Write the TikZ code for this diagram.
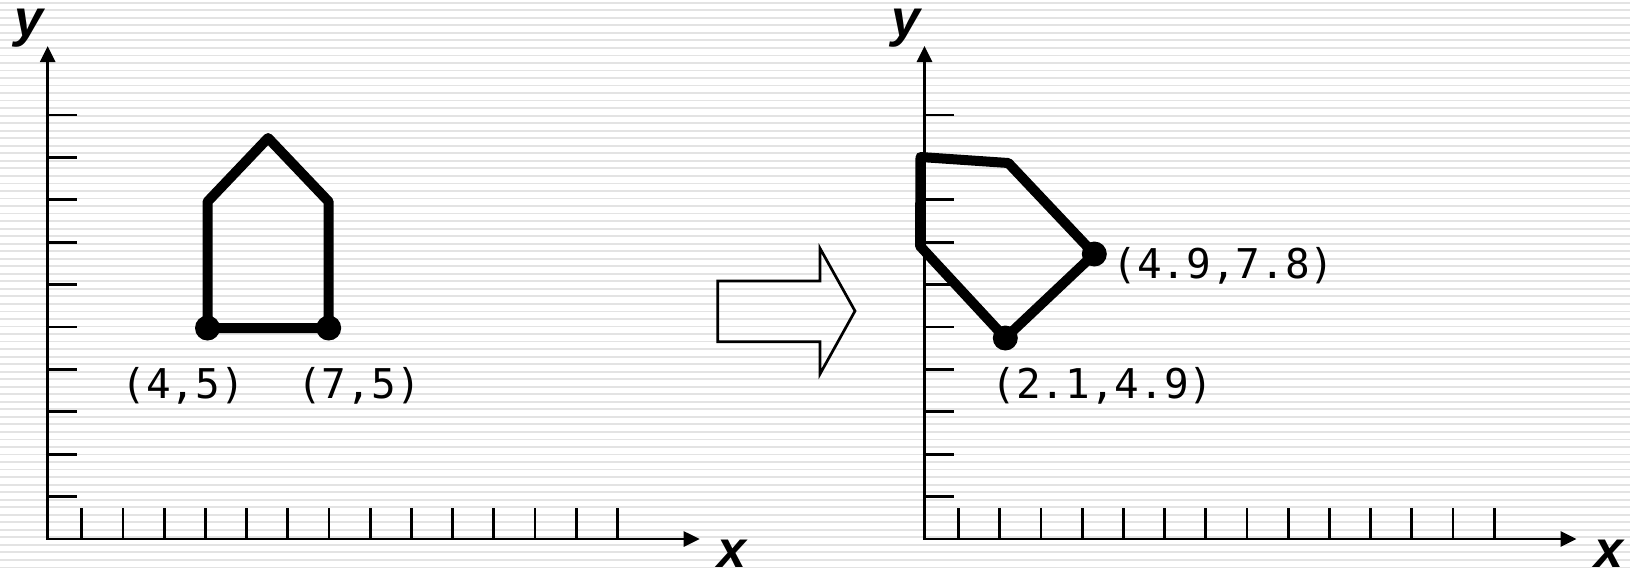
\documentclass[tikz,border=0pt]{standalone}
\usepackage{fontspec}
\usetikzlibrary{arrows.meta}
\newfontfamily\coordfont{DejaVu Sans Mono}
\newfontfamily\axisfont{Liberation Sans}

\tikzset{
  stripe/.style={line width=0.9pt, draw=gray!22},
  axis/.style={line width=1.4pt, {Triangle[length=8pt,width=7.5pt]}-{Triangle[length=8pt,width=7.5pt]}},
  tick/.style={line width=1.4pt},
  house/.style={line width=5pt, line join=round},
  dot/.style={circle, fill=black, inner sep=0pt, minimum size=12.5pt},
  coordlabel/.style={font=\coordfont\fontsize{20.5}{24}\selectfont, inner sep=0pt, anchor=base},
  axislabel/.style={font=\axisfont\bfseries\itshape\fontsize{26}{30}\selectfont, inner sep=0pt, anchor=base},
  blockarrow/.style={line width=1.35pt, line join=miter}
}

\begin{document}
\begin{tikzpicture}[x=0.5pt, y=-0.5pt]
    \useasboundingbox (0,0) rectangle (1630,569);
    \foreach \i in {0,...,75}
        \draw[stripe] (0,2.7+7.53*\i) -- (1630,2.7+7.53*\i);

    \foreach \ox/\n in {47.7/L, 924.5/R} {
        \coordinate (o\n) at (\ox,539);
        \coordinate (x\n) at (\ox+652,539);
        \coordinate (y\n) at (\ox,46);
        \draw[axis] (y\n) -- (o\n) -- (x\n);
        \foreach \k in {1,...,10}
            \draw[tick] (\ox,539-42.4*\k) -- ++(29,0);
        \foreach \k in {0,...,13}
            \draw[tick] (\ox+34+41.2*\k,539) -- ++(0,-31);
        \node[axislabel] (xlab\n) at (\ox+684,567) {x};
        \node[axislabel] (ylab\n) at (\ox-19,36) {y};
    }

    \coordinate (a1) at (207.5,328);
    \coordinate (a2) at (328.7,328);
    \coordinate (a3) at (328.7,201.7);
    \coordinate (a4) at (268.1,138);
    \coordinate (a5) at (207.5,201.7);
    \draw[house] (a1) -- (a2) -- (a3) -- (a4) -- (a5) -- cycle;
    \node[dot] (da1) at (a1) {};
    \node[dot] (da2) at (a2) {};
    \node[coordlabel] (la1) at (183.3,398) {(4,5)};
    \node[coordlabel] (la2) at (359,398) {(7,5)};

    \draw[blockarrow] (717.7,281) -- (820,281) -- (820,248.3) -- (855,311)
        -- (820,374) -- (820,341.7) -- (717.7,341.7) -- cycle;

    \coordinate (b1) at (1005.3,338);
    \coordinate (b2) at (1094.3,254);
    \coordinate (b3) at (1008.3,163);
    \coordinate (b4) at (920.5,157);
    \coordinate (b5) at (920,246);
    \draw[house] (b1) -- (b2) -- (b3) -- (b4) -- (b5) -- cycle;
    \node[dot] (db1) at (b1) {};
    \node[dot] (db2) at (b2) {};
    \node[coordlabel] (lb1) at (1102.5,398) {(2.1,4.9)};
    \node[coordlabel] (lb2) at (1223.5,278.5) {(4.9,7.8)};
\end{tikzpicture}
\end{document}
